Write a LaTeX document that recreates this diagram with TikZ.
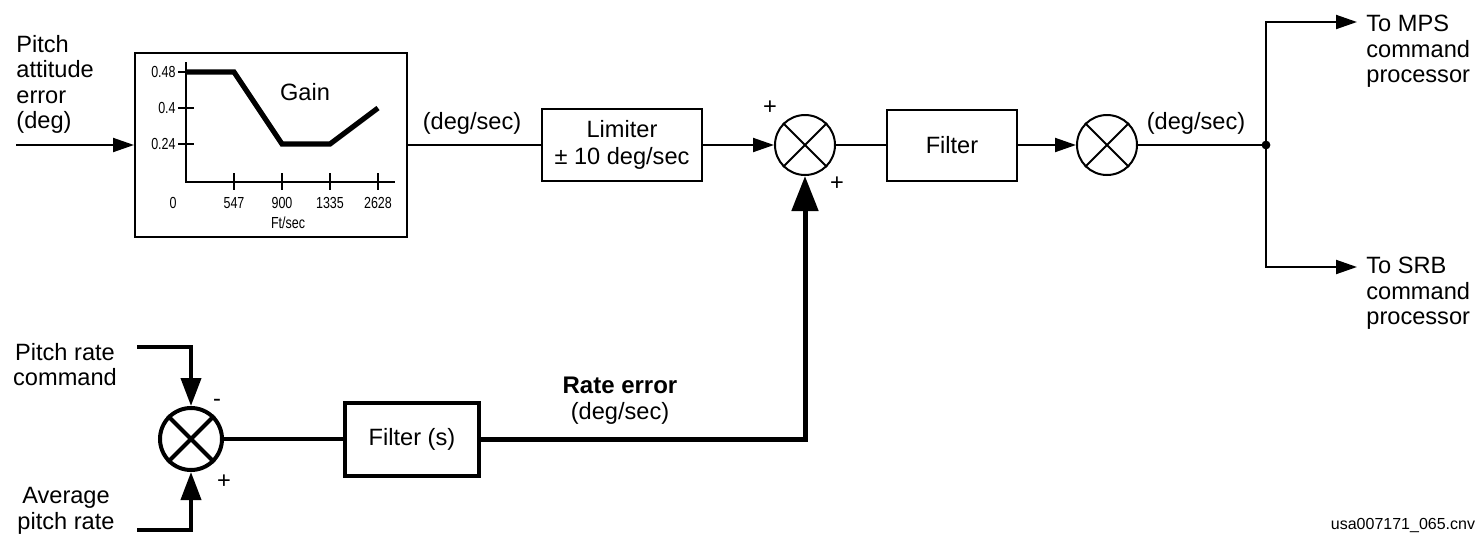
\documentclass[tikz,border=0pt]{standalone}
\usepackage{fontspec}
\setmainfont{Liberation Sans}
\newfontfamily\narrowfont[FakeStretch=0.78]{Liberation Sans}
\usetikzlibrary{arrows.meta}
\begin{document}
\begin{tikzpicture}[x=0.5pt,y=-0.5pt,
  every node/.style={font=\fontsize{11.8}{12.7}\selectfont},
  box/.style={draw, line width=1pt, inner sep=0pt},
  thickbox/.style={draw, line width=2pt, inner sep=0pt},
  sumnode/.style={circle, draw, line width=1pt, minimum size=30pt, inner sep=0pt},
  conn/.style={line width=1pt},
  arr/.style={conn, -{Triangle[length=10.5pt,width=7pt]}},
  heavyarr/.style={line width=2.5pt, line join=miter, -{Triangle[length=17.5pt,width=13pt]}},
  medarr/.style={line width=2pt, line join=miter, -{Triangle[length=14pt,width=10pt]}},
  txt/.style={inner sep=0pt},
  ticklbl/.style={font=\narrowfont\fontsize{8}{9}\selectfont, inner sep=0pt}
]
\useasboundingbox (0,0) rectangle (1480,547);

% ---- top path nodes
\node[box, minimum width=136pt, minimum height=92pt] (gain) at (271,145) {};
\node[box, minimum width=80pt, minimum height=36pt, align=center] (lim) at (622,145) {Limiter\\[1pt]± 10 deg/sec};
\node[sumnode] (s1) at (805,145) {};
\node[box, minimum width=65pt, minimum height=35.5pt] (filt) at (952,145) {Filter};
\node[sumnode] (s2) at (1107,145) {};
\coordinate (j) at (1266,145);
\coordinate (mps) at (1357,22);
\coordinate (srb) at (1357,267);
\coordinate (pin) at (16,145);

% ---- bottom path nodes
\node[sumnode, line width=2pt, minimum size=31pt] (s3) at (191,439) {};
\node[thickbox, minimum width=67pt, minimum height=36.5pt] (fs) at (412,439) {Filter (s)};
\coordinate (prc) at (137,347);
\coordinate (apr) at (137,530);

% ---- X marks in summing junctions
\foreach \s in {s1,s2}
  \draw[line width=1pt] (\s.north west) -- (\s.south east) (\s.north east) -- (\s.south west);
\draw[line width=2pt] (s3.north west) -- (s3.south east) (s3.north east) -- (s3.south west);

% ---- connectors
\draw[arr] (pin) -- (gain.west);
\draw[conn] (gain.east) -- (lim.west);
\draw[arr] (lim.east) -- (s1.west);
\draw[conn] (s1.east) -- (filt.west);
\draw[arr] (filt.east) -- (s2.west);
\draw[conn] (s2.east) -- (j);
\fill (j) circle[radius=2.2pt];
\draw[arr, line join=miter] (j) |- (mps);
\draw[arr, line join=miter] (j) |- (srb);

\draw[medarr] (prc) -| (s3.north);
\draw[medarr] (apr) -| (s3.south);
\draw[line width=2pt] (s3.east) -- (fs.west);
\draw[heavyarr] (fs.east) -| (s1.south);

% ---- gain graph
\draw[line width=0.7pt] (186,62) -- (186,182) -- (395,182);
\foreach \y in {72,108,144} \draw[line width=0.7pt] (178,\y) -- (194,\y);
\foreach \x in {234,282,330,378} \draw[line width=0.7pt] (\x,173) -- (\x,190);
\draw[line width=2.6pt, line join=miter] (186,72) -- (234,72) -- (282,144) -- (330,144) -- (378,108);
\node[ticklbl, anchor=east] at (176,72) {0.48};
\node[ticklbl, anchor=east] at (176,108) {0.4};
\node[ticklbl, anchor=east] at (176,144) {0.24};
\node[ticklbl] at (173,203) {0};
\node[ticklbl] at (234,203) {547};
\node[ticklbl] at (282,203) {900};
\node[ticklbl] at (330,203) {1335};
\node[ticklbl] at (378,203) {2628};
\node[ticklbl] at (288,223) {Ft/sec};
\node[txt] at (305,92) {Gain};

% ---- labels
\node[txt, anchor=north west, align=left] at (16,35) {Pitch\\attitude\\error\\(deg)};
\node[txt, anchor=north, align=center] at (65,343) {Pitch rate\\command};
\node[txt, anchor=north, align=center] at (66,487) {Average\\pitch rate};
\node[txt, anchor=north west, align=left] at (1366,15) {To MPS\\command\\processor};
\node[txt, anchor=north west, align=left] at (1366,257) {To SRB\\command\\processor};
\node[txt] at (472,123) {(deg/sec)};
\node[txt] at (1196,123) {(deg/sec)};
\node[txt] at (770,108) {+};
\node[txt] at (837,184) {+};
\node[txt] at (217,403) {-};
\node[txt] at (224,482) {+};
\node[txt, font=\fontsize{12}{13}\selectfont\bfseries] at (620,385) {Rate error};
\node[txt] at (620,413) {(deg/sec)};
\node[txt, font=\fontsize{8}{9}\selectfont] at (1403,525) {usa007171\_065.cnv};
\end{tikzpicture}
\end{document}
